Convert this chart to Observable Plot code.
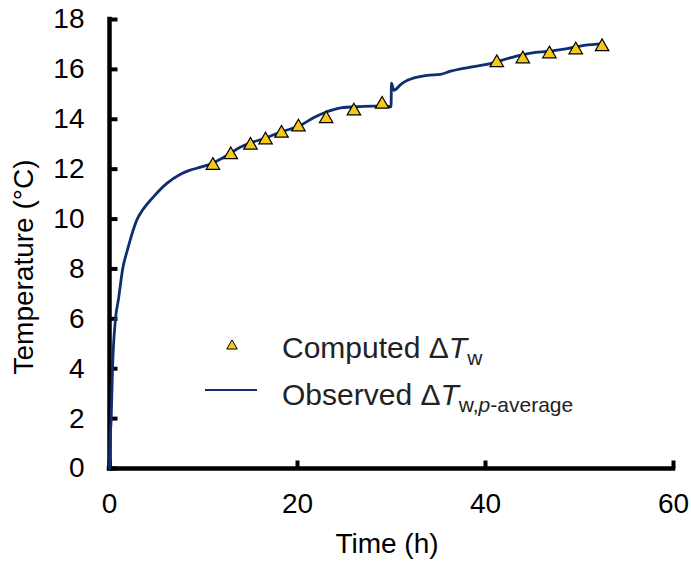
<!DOCTYPE html>
<html>
<head>
<meta charset="utf-8">
<script src="https://cdn.jsdelivr.net/npm/d3@7"></script>
<script src="https://cdn.jsdelivr.net/npm/@observablehq/plot@0.6"></script>
<style>
  html, body { margin: 0; padding: 0; background: #fff; }
  #chart svg { display: block; }
</style>
</head>
<body>
<div id="chart"></div>
<script>
// Observed ΔT_w,p-average (time in h, temperature in °C)
const obsTime = [0, 0.05, 0.18, 0.32, 0.64, 0.96, 1.4, 1.9, 2.95, 3.5, 4.7, 6.1, 7.55, 8.5, 9.7, 11, 12.5, 13.9, 15, 16.6, 18.3, 20.3, 21.7, 23.2, 24.6, 26.7, 28, 29.5, 29.95, 30.0, 30.25, 31, 31.7, 33.8, 35.2, 36.3, 38.4, 40.5, 42.7, 44.8, 46.9, 48.7, 50.5, 52.5];
const obsTemp = [0, 1.0, 2.0, 4.0, 6.0, 6.8, 8.0, 8.75, 10.0, 10.35, 10.9, 11.43, 11.8, 11.95, 12.08, 12.25, 12.55, 12.88, 13.05, 13.25, 13.5, 13.75, 14.06, 14.31, 14.46, 14.51, 14.53, 14.53, 14.5, 15.45, 15.16, 15.4, 15.56, 15.76, 15.8, 15.93, 16.09, 16.23, 16.47, 16.65, 16.73, 16.83, 16.96, 17.02];

// Computed ΔT_w
const compTime = [11.0, 12.9, 15.0, 16.6, 18.3, 20.1, 23.05, 26.0, 29.0, 41.2, 43.97, 46.8, 49.6, 52.4];
const compTemp = [12.23, 12.66, 13.04, 13.25, 13.52, 13.77, 14.1, 14.41, 14.68, 16.35, 16.5, 16.7, 16.86, 16.99];

const xTicks = [0, 20, 40, 60];
const yTicks = [0, 2, 4, 6, 8, 10, 12, 14, 16, 18];

const observed = obsTime.map((t, i) => ({t, v: obsTemp[i]}));
const computed = compTime.map((t, i) => ({t, v: compTemp[i]}));

const lineColor = "#0f2d6f";
const triFill = "#f6c818";
const font = "'Liberation Sans', Arial, sans-serif";

// inward tick shapes used as custom dot symbols
const tickUp = {draw(ctx) { ctx.moveTo(0, 0); ctx.lineTo(0, -8); }};
const tickRight = {draw(ctx) { ctx.moveTo(0, 0); ctx.lineTo(8, 0); }};

const plot = Plot.plot({
  width: 691,
  height: 565,
  marginLeft: 109,
  marginRight: 18,
  marginTop: 19,
  marginBottom: 97,
  style: {fontFamily: font, fontSize: "28px", color: "black", background: "white", overflow: "visible"},
  x: {domain: [0, 60]},
  y: {domain: [0, 18]},
  marks: [
    // tick labels
    Plot.axisX({ticks: xTicks, tickSize: 0, tickPadding: 25, label: null, tickFormat: d => String(d)}),
    Plot.axisY({ticks: yTicks, tickSize: 0, tickPadding: 25, label: null, tickFormat: d => String(d)}),
    // inward tick marks
    Plot.dot(xTicks, {x: d => d, y: () => 0, symbol: tickUp, fill: "none", stroke: "black", strokeWidth: 4}),
    Plot.dot(yTicks, {x: () => 0, y: d => d, symbol: tickRight, fill: "none", stroke: "black", strokeWidth: 4}),
    Plot.ruleX([0], {stroke: "black", strokeWidth: 4.5, strokeLinecap: "square"}),
    Plot.ruleY([0], {stroke: "black", strokeWidth: 4.5, strokeLinecap: "square"}),
    Plot.line(observed, {x: "t", y: "v", stroke: lineColor, strokeWidth: 2.8, curve: "monotone-x"}),
    Plot.dot(computed, {x: "t", y: "v", symbol: "triangle", r: 5, fill: triFill, stroke: "black", strokeWidth: 1.2, dy: 2})
  ]
});

document.getElementById("chart").appendChild(plot);

// Axis titles and legend
const svg = d3.select(plot);
svg.append("text")
  .attr("x", 387).attr("y", 553)
  .attr("text-anchor", "middle")
  .attr("font-family", font).attr("font-size", 28).attr("fill", "black")
  .text("Time (h)");

svg.append("text")
  .attr("transform", "translate(33,267) rotate(-90)")
  .attr("text-anchor", "middle")
  .attr("font-family", font).attr("font-size", 28).attr("fill", "black")
  .text("Temperature (°C)");

const lg = svg.append("g").attr("font-family", font).attr("fill", "#222").attr("text-anchor", "start");
lg.append("path")
  .attr("transform", "translate(232,346)")
  .attr("d", d3.symbol(d3.symbolTriangle, 48)())
  .attr("fill", triFill).attr("stroke", "black").attr("stroke-width", 1);
const t1 = lg.append("text").attr("x", 282).attr("y", 358).attr("font-size", 30);
t1.append("tspan").text("Computed Δ");
t1.append("tspan").attr("font-style", "italic").text("T");
t1.append("tspan").attr("font-size", 21).attr("dy", 7).text("w");

lg.append("line")
  .attr("x1", 205).attr("x2", 257).attr("y1", 390).attr("y2", 390)
  .attr("stroke", lineColor).attr("stroke-width", 2);
const t2 = lg.append("text").attr("x", 282).attr("y", 405).attr("font-size", 30);
t2.append("tspan").text("Observed Δ");
t2.append("tspan").attr("font-style", "italic").text("T");
t2.append("tspan").attr("font-size", 21).attr("dy", 7).text("w,");
t2.append("tspan").attr("font-size", 21).attr("font-style", "italic").text("p");
t2.append("tspan").attr("font-size", 21).text("-average");
</script>
</body>
</html>
